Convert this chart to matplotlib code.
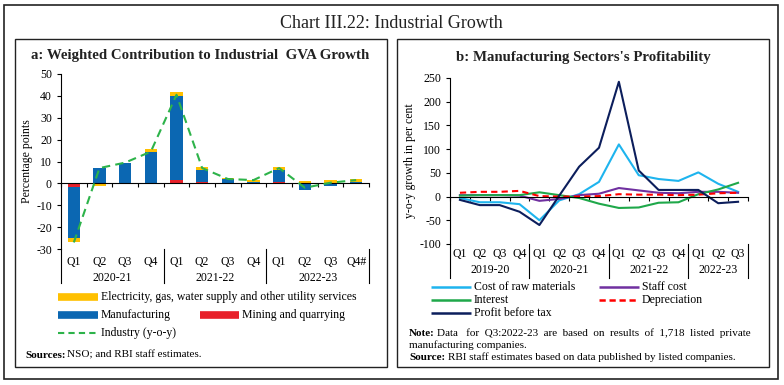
import matplotlib
matplotlib.use("Agg")
import matplotlib.pyplot as plt
from matplotlib.patches import Rectangle
from matplotlib.lines import Line2D
import matplotlib.transforms as mtransforms

plt.rcParams['font.family'] = ['Liberation Serif', 'DejaVu Serif']
plt.rcParams['axes.unicode_minus'] = False

W, H = 784, 385

# ---- panel a data (percentage points)
quarters_a = ['Q1', 'Q2', 'Q3', 'Q4', 'Q1', 'Q2', 'Q3', 'Q4', 'Q1', 'Q2', 'Q3', 'Q4#']
years_a = ['2020-21', '2021-22', '2022-23']
mining = [-1.5, -0.3, -0.5, -0.5, 1.5, 0.5, 0.3, 0.2, 0.5, 0.2, 0.2, 0.2]
manufacturing = [-23.5, 7.2, 9.5, 14.5, 38.5, 5.5, 1.5, 0.5, 5.5, -3.0, -1.0, 0.5]
electricity = [-2.0, -0.8, 0.0, 1.0, 2.0, 1.5, 0.5, 0.8, 1.5, 0.8, 1.2, 1.3]
industry = [-27.0, 7.0, 9.5, 14.5, 40.5, 7.0, 2.0, 1.5, 7.0, -2.0, 0.3, 1.5]

# ---- panel b data (y-o-y growth, per cent)
quarters_b = ['Q1', 'Q2', 'Q3', 'Q4'] * 3 + ['Q1', 'Q2', 'Q3']
years_b = ['2019-20', '2020-21', '2021-22', '2022-23']
raw_materials = [-3, -12, -12, -16, -50, -8, 5, 31, 110, 45, 37, 33, 51, 27, 10]
staff_cost = [3, 3, 3, 2, -9, -5, 3, 6, 18, 13, 8, 7, 10, 10, 8]
interest = [2, 3, 3, 3, 9, 3, -3, -15, -24, -23, -13, -12, 5, 15, 29]
depreciation = [8, 10, 10, 12, 1, 0, 0, 1, 5, 4, 4, 3, 4, 7, 8]
profit = [-7, -18, -18, -32, -60, 2, 63, 103, 242, 55, 14, 14, 14, -14, -11]

c_elec = '#FFC000'
c_manu = '#0B67B2'
c_mine = '#E8202A'
c_ind = '#2DB34A'


def fx(px):
    return px / W


def fy(py):
    return 1 - py / H


def add_axes(left, top, right, bottom):
    return fig.add_axes([fx(left), fy(bottom), (right - left) / W, (bottom - top) / H])


fig = plt.figure(figsize=(W / 100, H / 100), dpi=100)

# frames
fig.add_artist(Rectangle((fx(4), fy(379)), (778 - 4) / W, (379 - 5) / H,
                         transform=fig.transFigure, fill=False, lw=1.2, ec='#222222'))
for l, r in [(15, 387), (397, 769)]:
    fig.add_artist(Rectangle((fx(l), fy(367)), (r - l) / W, (367 - 39) / H,
                             transform=fig.transFigure, fill=False, lw=1.0, ec='#222222'))
fig.text(fx(391), fy(23), 'Chart III.22: Industrial Growth', ha='center', va='center',
         fontsize=13, color='#222222')


def category_axis(ax, quarters, years, n_per_year, q_y, yr_y, sep_bottom):
    n = len(quarters)
    trans = mtransforms.blended_transform_factory(ax.transData, fig.transFigure)
    for i, q in enumerate(quarters):
        ax.text(i, fy(q_y), q, transform=trans, ha='center', va='center', fontsize=8.5)
    bounds = list(range(0, n, n_per_year)) + [n]
    for k, yr in enumerate(years):
        a, b = bounds[k], bounds[k + 1]
        ax.text((a + b - 1) / 2, fy(yr_y), yr, transform=trans, ha='center', va='center', fontsize=8.5)
    for b in bounds:
        ax.add_line(Line2D([b - 0.5, b - 0.5], [fy(sep_bottom) , ax.get_position().y0],
                           transform=trans, color='black', lw=0.8, clip_on=False))
    ax.set_xticks([b - 0.5 for b in range(n + 1)])
    ax.set_xticklabels([])
    ax.tick_params(axis='x', direction='out', length=3, width=0.8)
    ax.tick_params(axis='y', length=3, width=0.8, labelsize=8.5)
    ax.spines['bottom'].set_position(('data', 0))
    ax.spines['top'].set_visible(False)
    ax.spines['right'].set_visible(False)
    ax.set_xlim(-0.5, n - 0.5)


# ---------------- panel a
fig.text(fx(200), fy(56), 'a: Weighted Contribution to Industrial  GVA Growth', ha='center',
         va='center', fontsize=10.7, fontweight='bold', color='#222222')
axa = add_axes(61, 74, 369, 249)
xa = list(range(len(quarters_a)))
pos = [0.0] * len(xa)
neg = [0.0] * len(xa)
for vals, col in [(mining, c_mine), (manufacturing, c_manu), (electricity, c_elec)]:
    bottoms = [pos[i] if v >= 0 else neg[i] for i, v in enumerate(vals)]
    axa.bar(xa, vals, bottom=bottoms, width=0.48, color=col, zorder=2)
    for i, v in enumerate(vals):
        if v >= 0:
            pos[i] += v
        else:
            neg[i] += v
axa.plot(xa, industry, color=c_ind, lw=1.5, ls=(0, (4, 2.5)), zorder=3)
axa.set_ylim(-30, 50)
axa.set_yticks(range(-30, 51, 10))
axa.set_ylabel('Percentage points', fontsize=8.5, labelpad=2)
category_axis(axa, quarters_a, years_a, 4, 262, 278, 283)

# legend a
def legend_item(x0, x1, y, label, color, lw, ls='-'):
    fig.add_artist(Line2D([fx(x0), fx(x1)], [fy(y), fy(y)], transform=fig.transFigure,
                          color=color, lw=lw, ls=ls, solid_capstyle='butt'))
    fig.text(fx(x1 + 3), fy(y), label, ha='left', va='center', fontsize=8.5)


legend_item(58, 98, 297, 'Electricity, gas, water supply and other utility services', c_elec, 5.5)
legend_item(58, 98, 315, 'Manufacturing', c_manu, 5.5)
legend_item(200, 239, 315, 'Mining and quarrying', c_mine, 5.5)
legend_item(58, 98, 333, 'Industry (y-o-y)', c_ind, 1.5, ls=(0, (3, 2)))
fig.text(fx(25), fy(355), 'Sources:', fontweight='bold', fontsize=8, va='center')
fig.text(fx(67), fy(355), 'NSO; and RBI staff estimates.', fontsize=8, va='center')

# ---------------- panel b
fig.text(fx(583), fy(57), "b: Manufacturing Sectors's Profitability", ha='center',
         va='center', fontsize=10.7, fontweight='bold', color='#222222')
axb = add_axes(450, 78, 748, 244)
xb = list(range(len(quarters_b)))
axb.plot(xb, raw_materials, color='#1EB4EE', lw=1.5)
axb.plot(xb, staff_cost, color='#7030A0', lw=1.5)
axb.plot(xb, interest, color='#1FA84A', lw=1.5)
axb.plot(xb, depreciation, color='#FF0000', lw=1.5, ls=(0, (3, 2)))
axb.plot(xb, profit, color='#0C1E5C', lw=1.5)
axb.set_ylim(-100, 250)
axb.set_yticks(range(-100, 251, 50))
axb.set_ylabel('y-o-y growth in per cent', fontsize=8.5, labelpad=2)
category_axis(axb, quarters_b, years_b, 4, 254, 270, 278)

legend_item(431, 471, 287, 'Cost of raw materials', '#1EB4EE', 1.8)
legend_item(599, 639, 287, 'Staff cost', '#7030A0', 1.8)
legend_item(431, 471, 300, 'Interest', '#1FA84A', 1.8)
legend_item(599, 639, 300, 'Depreciation', '#FF0000', 1.8, ls=(0, (2.5, 1.5)))
legend_item(431, 471, 313, 'Profit before tax', '#0C1E5C', 1.8)

fig.text(fx(409), fy(333), 'Note:', fontweight='bold', fontsize=8, va='center')
fig.text(fx(437), fy(333), 'Data   for  Q3:2022-23  are  based  on  results  of  1,718  listed  private',
         fontsize=8, va='center')
fig.text(fx(409), fy(345), 'manufacturing companies.', fontsize=8, va='center')
fig.text(fx(409), fy(357), 'Source:', fontweight='bold', fontsize=8, va='center')
fig.text(fx(448), fy(357), 'RBI staff estimates based on data published by listed companies.',
         fontsize=8, va='center')

fig.savefig('out.png', dpi=100)
